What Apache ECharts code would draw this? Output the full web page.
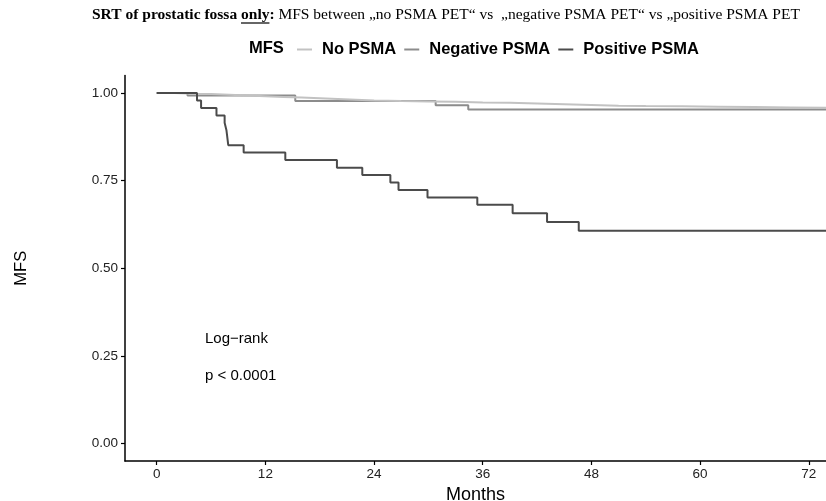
<!DOCTYPE html>
<html>
<head>
<meta charset="utf-8">
<script src="https://cdn.jsdelivr.net/npm/echarts@6/dist/echarts.min.js"></script>
<style>
  html, body { margin: 0; padding: 0; background: #fff; }
  #chart { width: 826px; height: 501px; }
</style>
</head>
<body>
<div id="chart"></div>
<script>
// Kaplan-Meier metastasis-free survival, step points [month, survival]
const noPsma = [
  [0, 1.000], [2, 0.998], [4, 0.997], [6, 0.995], [8, 0.993], [10, 0.991],
  [12, 0.989], [14, 0.987], [16, 0.985], [18, 0.983], [20, 0.981], [22, 0.979],
  [24, 0.977], [27, 0.976], [30, 0.975], [33, 0.973], [36, 0.972], [39, 0.970],
  [42, 0.968], [45, 0.966], [48, 0.964], [51, 0.963], [54, 0.962], [58, 0.961],
  [62, 0.960], [66, 0.959], [70, 0.958], [74, 0.958]
];
const negativePsma = [
  [0, 1.000], [3.4, 0.993], [15.3, 0.977], [30.8, 0.965], [34.4, 0.953], [74, 0.953]
];
const positivePsma = [
  [0, 1.000], [4.45, 0.979], [4.9, 0.957], [6.6, 0.936], [7.5, 0.915], [7.7, 0.894],
  [7.9, 0.851], [9.6, 0.830], [14.2, 0.809], [19.9, 0.787], [22.7, 0.766],
  [25.8, 0.745], [26.7, 0.723], [29.9, 0.702], [35.4, 0.681], [39.3, 0.657],
  [43.1, 0.632], [46.6, 0.607], [74, 0.607]
];
const seriesNames = ['No PSMA', 'Negative PSMA', 'Positive PSMA'];
const monthTicks = [0, 12, 24, 36, 48, 60, 72];
const survivalTicks = [0, 0.25, 0.5, 0.75, 1];

const colors = ['#c2c2c2', '#8c8c8c', '#4b4b4b'];
const sans = 'Liberation Sans, Arial, Helvetica, sans-serif';
const serif = 'Liberation Serif, Times New Roman, serif';

// title pieces; the bold word "only" gets an underline
const titleLead = 'SRT of prostatic fossa ';
const titleKey = 'only';
const titleColon = ':';
const titleRest = ' MFS between „no PSMA PET“ vs  „negative PSMA PET“ vs „positive PSMA PET';
const titleSize = 15.5;
const titleLeft = 92;
const titleTop = 7;

const measureCtx = document.createElement('canvas').getContext('2d');
function textWidth(str, font) {
  measureCtx.font = font;
  return measureCtx.measureText(str).width;
}
const boldFont = 'bold ' + titleSize + 'px ' + serif;
const underlineX0 = titleLeft + textWidth(titleLead, boldFont);
const underlineX1 = underlineX0 + textWidth(titleKey, boldFont);
const underlineY = titleTop + titleSize + 0.5;

const chart = echarts.init(document.getElementById('chart'), null, { renderer: 'canvas' });

function kmSeries(name, data, color, z) {
  return {
    name: name,
    type: 'line',
    step: 'end',
    data: data,
    showSymbol: false,
    symbol: 'none',
    z: z,
    lineStyle: { color: color, width: 2 },
    itemStyle: { color: color },
    emphasis: { disabled: true },
    animation: false
  };
}

chart.setOption({
  animation: false,
  title: {
    left: titleLeft,
    top: titleTop,
    padding: 0,
    text: '{b|' + titleLead + titleKey + titleColon + '}{n|' + titleRest + '}',
    textStyle: {
      rich: {
        b: { fontFamily: serif, fontWeight: 'bold', fontSize: titleSize, color: '#000' },
        n: { fontFamily: serif, fontWeight: 'normal', fontSize: titleSize, color: '#000' }
      }
    }
  },
  legend: {
    left: 292,
    top: 36,
    data: seriesNames,
    icon: 'rect',
    itemWidth: 15,
    itemHeight: 2,
    itemGap: 8,
    selectedMode: false,
    textStyle: {
      fontFamily: sans, fontWeight: 'bold', fontSize: 16.5, color: '#000',
      padding: [0, 0, 0, 5]
    }
  },
  graphic: [
    { type: 'line', silent: true,
      shape: { x1: underlineX0, y1: underlineY, x2: underlineX1, y2: underlineY },
      style: { stroke: '#000', lineWidth: 1.2 } },
    { type: 'text', left: 249, top: 40,
      style: { text: 'MFS', font: 'bold 16.5px ' + sans, fill: '#000' } },
    { type: 'text', left: 205, top: 331,
      style: { text: 'Log\u2212rank', font: '15px ' + sans, fill: '#000' } },
    { type: 'text', left: 205, top: 368,
      style: { text: 'p < 0.0001', font: '15px ' + sans, fill: '#000' } }
  ],
  grid: { left: 125, right: 0, top: 75.5, bottom: 40, containLabel: false, outerBoundsMode: 'none' },
  xAxis: {
    type: 'value',
    min: -3.5,
    max: 73.9,
    name: 'Months',
    nameLocation: 'middle',
    nameGap: 19,
    nameTextStyle: { fontFamily: sans, fontSize: 18, color: '#000' },
    axisLine: { show: true, onZero: false, lineStyle: { color: '#000', width: 1.5 } },
    axisTick: { show: true, length: 4, customValues: monthTicks, lineStyle: { color: '#000', width: 1.2 } },
    axisLabel: { customValues: monthTicks, fontFamily: sans, fontSize: 13.5, color: '#222', margin: 6 },
    splitLine: { show: false }
  },
  yAxis: {
    type: 'value',
    min: -0.05,
    max: 1.05,
    name: 'MFS',
    nameLocation: 'middle',
    nameGap: 95,
    nameRotate: 90,
    nameTextStyle: { fontFamily: sans, fontSize: 16.5, color: '#000' },
    axisLine: { show: true, onZero: false, lineStyle: { color: '#000', width: 1.5 } },
    axisTick: { show: true, length: 4, customValues: survivalTicks, lineStyle: { color: '#000', width: 1.2 } },
    axisLabel: {
      customValues: survivalTicks, fontFamily: sans, fontSize: 13.5, color: '#222', margin: 7,
      formatter: v => v.toFixed(2)
    },
    splitLine: { show: false }
  },
  series: [
    kmSeries(seriesNames[0], noPsma, colors[0], 3),
    kmSeries(seriesNames[1], negativePsma, colors[1], 2),
    kmSeries(seriesNames[2], positivePsma, colors[2], 4)
  ]
});
</script>
</body>
</html>
